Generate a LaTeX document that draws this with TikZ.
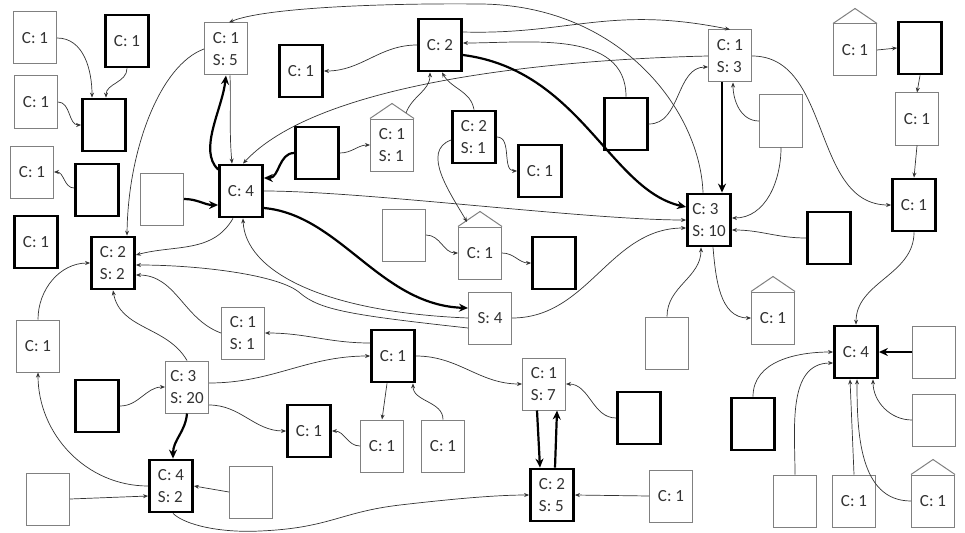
\documentclass[tikz,border=0pt]{standalone}
\usepackage{fontspec}
\setmainfont{Carlito}
\usetikzlibrary{arrows.meta,calc}
\tikzset{
 box/.style={rectangle, minimum width=43pt, minimum height=52pt, inner sep=0pt, align=left, font=\fontsize{17}{22}\selectfont, text=black!80},
 thinbox/.style={box, draw=black!50, line width=1pt},
 thickbox/.style={box, draw=black, line width=2.8pt},
 edge/.style={draw=black!80, line width=0.7pt, -{Stealth[length=5pt,width=4pt]}},
 bedge/.style={draw=black, line width=2.2pt, -{Stealth[length=9pt,width=8pt]}},
 roof/.style={draw=black!50, line width=1pt}
}
\begin{document}
\begin{tikzpicture}[x=1pt,y=1pt]
\useasboundingbox (0,0) rectangle (965,-532);
\fill[white] (0,0) rectangle (965,-532);
% nodes
\node[thinbox]  (A)  at (35,-38)  {C: 1};
\node[thickbox] (B)  at (127,-41) {C: 1};
\node[thinbox]  (C)  at (36,-102) {C: 1};
\node[thickbox] (D)  at (104,-125) {};
\node[thinbox]  (E)  at (32,-172) {C: 1};
\node[thickbox] (F)  at (97,-190) {};
\node[thickbox] (G)  at (36,-242) {C: 1};
\node[thickbox] (H)  at (113,-263) {C: 2\\S: 2};
\node[thinbox]  (I)  at (38,-346) {C: 1};
\node[thinbox]  (J)  at (162,-199) {};
\node[thickbox] (K)  at (241,-191) {C: 4};
\node[thinbox]  (L)  at (226,-49) {C: 1\\S: 5};
\node[thickbox] (M)  at (301,-71) {C: 1};
\node[thickbox] (N)  at (440,-45) {C: 2};
\node[thickbox] (O)  at (317,-153) {};
\node[thinbox]  (P)  at (392,-145) {C: 1\\S: 1};
\node[thickbox] (Q)  at (474,-137) {C: 2\\S: 1};
\node[thickbox] (R)  at (540,-171) {C: 1};
\node[thickbox] (S)  at (626,-124) {};
\node[thinbox]  (T)  at (730,-56) {C: 1\\S: 3};
\node[thinbox]  (U)  at (781,-121) {};
\node[thinbox]  (V)  at (855,-50) {C: 1};
\node[thickbox] (W)  at (920,-48) {};
\node[thinbox]  (X)  at (917,-119) {C: 1};
\node[thickbox] (Y)  at (914,-205) {C: 1};
\node[thickbox] (Z)  at (709,-220) {C: 3\\S: 10};
\node[thickbox] (AA) at (829,-238) {};
\node[thinbox]  (AB) at (773,-318) {C: 1};
\node[thickbox] (AC) at (856,-352) {C: 4};
\node[thinbox]  (AD) at (934,-352) {};
\node[thinbox]  (AE) at (934,-420) {};
\node[thinbox]  (AF) at (933,-501) {C: 1};
\node[thinbox]  (AG) at (854,-501) {C: 1};
\node[thinbox]  (AH) at (795,-501) {};
\node[thickbox] (AI) at (753,-424) {};
\node[thinbox]  (AJ) at (667,-343) {};
\node[thinbox]  (AK) at (671,-496) {C: 1};
\node[thickbox] (AL) at (552,-495) {C: 2\\S: 5};
\node[thinbox]  (AM) at (544,-384) {C: 1\\S: 7};
\node[thickbox] (AN) at (639,-418) {};
\node[thinbox]  (AO) at (490,-318) {S: 4};
\node[thinbox]  (AP) at (480,-253) {C: 1};
\node[thinbox]  (AQ) at (404,-235) {};
\node[thickbox] (AR) at (554,-263) {};
\node[thinbox]  (AS) at (243,-333) {C: 1\\S: 1};
\node[thickbox] (AT) at (393,-356) {C: 1};
\node[thinbox]  (AU) at (187,-387) {C: 3\\S: 20};
\node[thickbox] (AV) at (97,-406) {};
\node[thickbox] (AW) at (171,-486) {C: 4\\S: 2};
\node[thinbox]  (AX) at (48,-499) {};
\node[thinbox]  (AY) at (251,-492) {};
\node[thickbox] (AZ) at (309,-431) {C: 1};
\node[thinbox]  (BA) at (382,-446) {C: 1};
\node[thinbox]  (BB) at (443,-446) {C: 1};
% roofs
\foreach \n in {P,V,AB,AF,AP}{
  \draw[roof] (\n.north west) -- ($(\n.north)+(0,15)$) -- (\n.north east);
}
\coordinate (Proof) at (406,-113);
\coordinate (AProof) at (467,-222);
% edges
\draw[edge] (A.east) to[out=0,in=90] ([xshift=-12]D.north);
\draw[edge] (B.south) to[out=-90,in=90] ([xshift=2]D.north);
\draw[edge] (C.east) to[out=0,in=180] (D.west);
\draw[edge] ([yshift=2]F.west) to[out=180,in=0] (E.east);
\draw[bedge] (J.east) to[out=0,in=180] ([yshift=-14]K.west);
\draw[edge] ([xshift=-8]K.south) to[out=-120,in=15] ([yshift=8]H.east);
\draw[edge] ([yshift=-10]AO.west) .. controls (350,-315) and (320,-310) .. (300,-293) .. controls (280,-275) and (200,-265) .. ([yshift=-2]H.east);
\draw[edge] (AS.west) to[out=160,in=0] ([yshift=-12]H.east);
\draw[edge] (AU.north) to[out=120,in=-80] (H.south);
\draw[edge] (I.north) to[out=90,in=180] (H.west);
\draw[edge] (L.west) .. controls (160,-65) and (128,-150) .. ([xshift=14]H.north);
\draw[bedge] ([yshift=-6]K.north west) .. controls (198,-150) and (222,-110) .. (L.south);
\draw[edge] ([xshift=4]L.south) to[out=-88,in=95] ([xshift=-9]K.north);
\draw[edge] (T.west) .. controls (620,-58) and (330,-70) .. ([xshift=2]K.north);
\draw[bedge] (O.west) to[out=180,in=0] ([yshift=13]K.east);
\draw[edge] (O.east) to[out=0,in=180] (P.west);
\draw[edge] (Proof) to[out=70,in=-90] ([xshift=-10]N.south);
\draw[edge] (Q.north) to[out=100,in=-60] ([xshift=2]N.south);
\draw[edge] (Q.east) to[out=0,in=180] (R.west);
\draw[edge] ([yshift=-3]Q.west) to[out=200,in=120] (AProof);
\draw[edge] (N.west) to[out=180,in=0] (M.east);
\draw[edge] ([yshift=13]N.east) .. controls (570,-35) and (610,-5) .. (T.north);
\draw[edge] (S.north) to[out=90,in=0] ([yshift=2]N.east);
\draw[bedge] ([yshift=-10]N.east) .. controls (580,-70) and (610,-190) .. ([yshift=13]Z.west);
\draw[edge] (S.east) to[out=0,in=180] ([yshift=-11]T.west);
\draw[edge] ([xshift=-6]Z.north) .. controls (700,-110) and (620,-5) .. (480,-4) .. controls (380,-3) and (262,-8) .. ([xshift=3]L.north);
\draw[bedge] ([xshift=-8]T.south) -- ([xshift=13]Z.north);
\draw[edge] (U.west) to[out=180,in=-90] ([xshift=3]T.south);
\draw[edge] (U.south) to[out=-90,in=0] ([yshift=2]Z.east);
\draw[edge] (T.east) to[out=0,in=180] (Y.west);
\draw[edge] (V.east) -- (W.west);
\draw[edge] (W.south) -- (X.north);
\draw[edge] (X.south) -- (Y.north);
\draw[edge] (Y.south) to[out=-90,in=90] (AC.north);
\draw[edge] (AA.west) to[out=180,in=0] ([yshift=-10]Z.east);
\draw[edge] ([xshift=4]Z.south) to[out=-85,in=180] (AB.west);
\draw[bedge] (AD.west) -- (AC.east);
\draw[edge] (AI.north) to[out=90,in=180] (AC.west);
\draw[edge] (AH.north) to[out=90,in=180] ([yshift=-11]AC.west);
\draw[edge] (AG.north) -- ([xshift=-6]AC.south);
\draw[edge] (AF.west) to[out=180,in=-90] ([xshift=1]AC.south);
\draw[edge] (AE.west) to[out=180,in=-90] ([xshift=17]AC.south);
\draw[edge] (K.east) to[out=0,in=180,looseness=0.6] (Z.west);
\draw[bedge] ([yshift=-17]K.east) .. controls (340,-215) and (380,-305) .. ([yshift=10]AO.west);
\draw[edge] (AO.west) .. controls (320,-312) and (245,-270) .. ([xshift=2]K.south);
\draw[edge] (AO.east) to[out=0,in=180] ([yshift=-8]Z.west);
\draw[edge] (AJ.north) to[out=90,in=-90] ([xshift=-8]Z.south);
\draw[edge] (AQ.east) to[out=0,in=180] (AP.west);
\draw[edge] (AP.east) to[out=0,in=180] (AR.west);
\draw[edge] ([yshift=13]AT.west) to[out=180,in=0] (AS.east);
\draw[edge] ([yshift=4]AU.east) to[out=0,in=180] (AT.west);
\draw[edge] ([yshift=-18]AU.east) to[out=0,in=180] (AZ.west);
\draw[bedge] (AU.south) to[out=-95,in=90] ([xshift=2]AW.north);
\draw[edge] (AV.east) to[out=0,in=180] (AU.west);
\draw[edge] (AW.west) to[out=180,in=-90] (I.south);
\draw[edge] (AX.east) -- ([yshift=-10]AW.west);
\draw[edge] (AY.west) -- (AW.east);
\draw[edge] ([xshift=2]AW.south) .. controls (185,-525) and (220,-533) .. (260,-531) .. controls (330,-528) and (340,-512) .. (400,-505) .. controls (460,-498) and (500,-495) .. (AL.west);
\draw[edge] ([xshift=-6]AT.south) -- (BA.north);
\draw[edge] (BB.north) to[out=90,in=-90] ([xshift=20]AT.south);
\draw[edge] (BA.west) to[out=180,in=0] (AZ.east);
\draw[edge] (AT.east) to[out=0,in=180] (AM.west);
\draw[bedge] ([xshift=-7]AM.south) -- ([xshift=-12]AL.north);
\draw[bedge] ([xshift=3]AL.north) -- ([xshift=13]AM.south);
\draw[edge] (AN.west) to[out=180,in=0] (AM.east);
\draw[edge] (AK.west) -- (AL.east);
\end{tikzpicture}
\end{document}
